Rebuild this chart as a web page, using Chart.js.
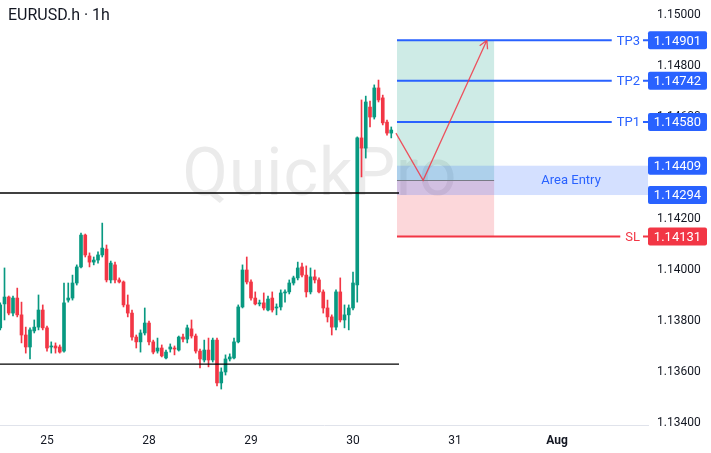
<!DOCTYPE html>
<html>
<head>
<meta charset="utf-8">
<script src="https://cdn.jsdelivr.net/npm/chart.js@4.4.1/dist/chart.umd.min.js"></script>
<style>
  html, body { margin: 0; padding: 0; background: #fff; }
  #wrap { position: relative; width: 711px; height: 453px; overflow: hidden; }
  #chart { position: absolute; left: 0; top: 0; z-index: 1; }
  #title { position: absolute; left: 8px; top: 5px; z-index: 2; font: 16px Roboto, sans-serif; color: #131722; }
  #mark { position: absolute; left: 0; top: 134px; width: 640px; text-align: center; z-index: 0;
          font: 66px Roboto, sans-serif; color: #ebebeb; letter-spacing: 1px; }
</style>
</head>
<body>
<div id="wrap">
  <div id="mark">QuickPro</div>
  <canvas id="chart" width="711" height="453"></canvas>
  <div id="title">EURUSD.h · 1h</div>
</div>
<script>
// hourly candles, hour 0 = 25 Jul 00:00 (trading hours only)
const hours = [-11, -10, -9, -8, -7, -6, -5, -4, -3, -2, -1,
  0, 1, 2, 3, 4, 5, 6, 7, 8, 9, 10, 11, 12, 13, 14, 15, 16, 17, 18, 19, 20, 21, 22, 23,
  24, 25, 26, 27, 28, 29, 30, 31, 32, 33, 34, 35, 36, 37, 38, 39, 40, 41, 42, 43, 44, 45, 46, 47,
  48, 49, 50, 51, 52, 53, 54, 55, 56, 57, 58, 59, 60, 61, 62, 63, 64, 65, 66, 67, 68, 69, 70, 71,
  72, 73, 74, 75, 76, 77, 78, 79, 80, 81];

const opens = [1.13773, 1.13867, 1.13894, 1.13831, 1.13890, 1.13824, 1.13745, 1.13698, 1.13761, 1.13776, 1.13843,
  1.13773, 1.13698, 1.13702, 1.13698, 1.13682, 1.13882, 1.13890, 1.13949, 1.14012, 1.14137, 1.14055, 1.14031,
  1.14039, 1.14059, 1.14082, 1.13961, 1.14020, 1.13961, 1.13953, 1.13863, 1.13831, 1.13737, 1.13718, 1.13753,
  1.13792, 1.13718, 1.13682, 1.13694, 1.13655, 1.13690, 1.13694, 1.13686, 1.13737, 1.13729, 1.13769, 1.13741,
  1.13682, 1.13647, 1.13686, 1.13647, 1.13725, 1.13557, 1.13600, 1.13651, 1.13655, 1.13718, 1.13855, 1.14000,
  1.13953, 1.13890, 1.13867, 1.13871, 1.13843, 1.13890, 1.13851, 1.13855, 1.13910, 1.13914, 1.13949, 1.13969,
  1.14012, 1.13980, 1.13914, 1.13973, 1.13961, 1.13914, 1.13851, 1.13816, 1.13776, 1.13914, 1.13804, 1.13824,
  1.13851, 1.13941, 1.14518, 1.14478, 1.14639, 1.14600, 1.14714, 1.14675, 1.14580, 1.14537];

const highs = [1.13871, 1.14008, 1.13898, 1.13898, 1.13929, 1.13874, 1.13776, 1.13773, 1.13804, 1.13902, 1.13863,
  1.13780, 1.13718, 1.13714, 1.13706, 1.13949, 1.13949, 1.13980, 1.14020, 1.14145, 1.14141, 1.14067, 1.14051,
  1.14071, 1.14184, 1.14098, 1.14035, 1.14031, 1.13969, 1.13957, 1.13902, 1.13843, 1.13745, 1.13765, 1.13851,
  1.13800, 1.13725, 1.13733, 1.13706, 1.13686, 1.13710, 1.13702, 1.13741, 1.13749, 1.13784, 1.13804, 1.13749,
  1.13690, 1.13725, 1.13733, 1.13733, 1.13733, 1.13616, 1.13667, 1.13671, 1.13733, 1.13863, 1.14020, 1.14051,
  1.13961, 1.13914, 1.13882, 1.13910, 1.13898, 1.13914, 1.13867, 1.13922, 1.13922, 1.13961, 1.13976, 1.14031,
  1.14027, 1.14016, 1.14008, 1.14000, 1.13969, 1.13922, 1.13882, 1.13824, 1.13922, 1.13969, 1.13863, 1.13863,
  1.13992, 1.14522, 1.14667, 1.14682, 1.14663, 1.14726, 1.14745, 1.14686, 1.14588, 1.14561];

const lows = [1.13765, 1.13804, 1.13824, 1.13820, 1.13816, 1.13714, 1.13674, 1.13651, 1.13753, 1.13765, 1.13765,
  1.13682, 1.13674, 1.13674, 1.13674, 1.13678, 1.13874, 1.13882, 1.13941, 1.14008, 1.14051, 1.14012, 1.14020,
  1.14027, 1.14051, 1.13953, 1.13949, 1.13949, 1.13949, 1.13855, 1.13816, 1.13725, 1.13694, 1.13678, 1.13745,
  1.13706, 1.13671, 1.13674, 1.13659, 1.13651, 1.13678, 1.13667, 1.13682, 1.13718, 1.13714, 1.13733, 1.13674,
  1.13616, 1.13639, 1.13620, 1.13639, 1.13545, 1.13533, 1.13588, 1.13643, 1.13651, 1.13714, 1.13851, 1.13945,
  1.13882, 1.13863, 1.13859, 1.13843, 1.13839, 1.13835, 1.13824, 1.13843, 1.13874, 1.13906, 1.13941, 1.13961,
  1.13973, 1.13894, 1.13906, 1.13949, 1.13910, 1.13831, 1.13796, 1.13745, 1.13765, 1.13796, 1.13773, 1.13765,
  1.13843, 1.13874, 1.14365, 1.14439, 1.14561, 1.14592, 1.14659, 1.14569, 1.14529, 1.14518];

const closes = [1.13863, 1.13894, 1.13831, 1.13890, 1.13824, 1.13745, 1.13698, 1.13765, 1.13776, 1.13843, 1.13773,
  1.13694, 1.13702, 1.13694, 1.13678, 1.13871, 1.13890, 1.13949, 1.14012, 1.14137, 1.14059, 1.14031, 1.14039,
  1.14059, 1.14086, 1.13961, 1.14027, 1.13961, 1.13953, 1.13863, 1.13831, 1.13737, 1.13718, 1.13753, 1.13792,
  1.13718, 1.13678, 1.13694, 1.13663, 1.13678, 1.13698, 1.13690, 1.13737, 1.13729, 1.13773, 1.13741, 1.13682,
  1.13651, 1.13686, 1.13647, 1.13725, 1.13557, 1.13600, 1.13651, 1.13659, 1.13718, 1.13855, 1.14000, 1.13953,
  1.13890, 1.13867, 1.13871, 1.13851, 1.13886, 1.13843, 1.13855, 1.13910, 1.13914, 1.13949, 1.13969, 1.14008,
  1.13980, 1.13914, 1.13973, 1.13961, 1.13914, 1.13851, 1.13816, 1.13776, 1.13914, 1.13804, 1.13824, 1.13851,
  1.13949, 1.14518, 1.14478, 1.14659, 1.14600, 1.14714, 1.14667, 1.14577, 1.14537, 1.14549];

// axis ticks
const dayTicks = [0, 24, 48, 72, 96, 120];
const dayLabels = ['25', '28', '29', '30', '31', 'Aug'];
const priceTicks = [1.134, 1.136, 1.138, 1.140, 1.142, 1.144, 1.146, 1.148, 1.150];

// trade plan
const tpNames = ['TP3', 'TP2', 'TP1'];
const tpLevels = [1.14901, 1.14742, 1.14580];
const slLevel = 1.14131;
const entryTop = 1.14409;
const entryBottom = 1.14294;
const entryMid = 1.14352;
const supportLevels = [1.14302, 1.13631];
const arrowHours = [82.1, 88.5, 103.5];
const arrowPrices = [1.14537, 1.14352, 1.14901];

const GREEN = '#089981', RED = '#f23645', BLUE = '#2962ff';
const candleColors = opens.map((o, i) => closes[i] >= o ? GREEN : RED);

function priceBox(ctx, a, yv, text, color) {
  ctx.fillStyle = color;
  ctx.beginPath();
  ctx.roundRect(a.right, yv - 9, 59, 18, 2);
  ctx.fill();
  ctx.fillStyle = '#fff';
  ctx.font = '13px Roboto';
  ctx.textAlign = 'center';
  ctx.textBaseline = 'middle';
  ctx.fillText(text, a.right + 29.5, yv + 1);
}

function levelLine(ctx, a, x0, yv, name, color) {
  ctx.font = '13px Roboto';
  const tw = ctx.measureText(name).width;
  const tx = a.right - 8;
  ctx.strokeStyle = color;
  ctx.lineWidth = 2;
  ctx.beginPath();
  ctx.moveTo(x0, yv); ctx.lineTo(tx - tw - 5, yv);
  ctx.moveTo(tx + 3, yv); ctx.lineTo(a.right, yv);
  ctx.stroke();
  ctx.fillStyle = color;
  ctx.textAlign = 'right';
  ctx.textBaseline = 'middle';
  ctx.fillText(name, tx, yv + 1);
}

const planPlugin = {
  id: 'plan',
  beforeDatasetsDraw(chart) {
    const { ctx, chartArea: a, scales: { x, y } } = chart;
    const x0 = x.getPixelForValue(arrowHours[0] + 0.25);
    const x1 = x.getPixelForValue(arrowHours[2] + 1.7);
    const yTp = y.getPixelForValue(tpLevels[0]);
    const yMid = y.getPixelForValue(entryMid);
    const ySl = y.getPixelForValue(slLevel);
    ctx.save();
    ctx.fillStyle = 'rgba(8,153,129,0.2)';
    ctx.fillRect(x0, yTp, x1 - x0, yMid - yTp);
    ctx.fillStyle = 'rgba(242,54,69,0.2)';
    ctx.fillRect(x0, yMid, x1 - x0, ySl - yMid);
    const yt = y.getPixelForValue(entryTop), yb = y.getPixelForValue(entryBottom);
    ctx.fillStyle = 'rgba(41,98,255,0.2)';
    ctx.fillRect(x0, yt, a.right - x0, yb - yt);
    ctx.strokeStyle = '#787b86';
    ctx.lineWidth = 1;
    ctx.beginPath();
    ctx.moveTo(x0, Math.round(yMid) + 0.5); ctx.lineTo(x1, Math.round(yMid) + 0.5);
    ctx.stroke();
    ctx.fillStyle = BLUE;
    ctx.font = '13px Roboto';
    ctx.textAlign = 'center';
    ctx.textBaseline = 'middle';
    ctx.fillText('Area Entry', (x1 + a.right) / 2, (yt + yb) / 2);
    ctx.restore();
  },
  afterDatasetsDraw(chart) {
    const { ctx, chartArea: a, scales: { x, y } } = chart;
    const x0 = x.getPixelForValue(arrowHours[0] + 0.25);
    ctx.save();
    // horizontal support / resistance
    ctx.strokeStyle = '#000';
    ctx.lineWidth = 1.3;
    supportLevels.forEach(v => {
      const yv = y.getPixelForValue(v);
      ctx.beginPath(); ctx.moveTo(a.left, yv); ctx.lineTo(x0 + 2, yv); ctx.stroke();
    });
    tpLevels.forEach((v, i) => levelLine(ctx, a, x0, y.getPixelForValue(v), tpNames[i], BLUE));
    levelLine(ctx, a, x0, y.getPixelForValue(slLevel), 'SL', RED);
    // projected path
    const pts = arrowHours.map((h, i) => [x.getPixelForValue(h), y.getPixelForValue(arrowPrices[i])]);
    ctx.strokeStyle = 'rgba(242,54,69,0.85)';
    ctx.lineWidth = 1.3;
    ctx.beginPath();
    pts.forEach((p, i) => i ? ctx.lineTo(p[0], p[1]) : ctx.moveTo(p[0], p[1]));
    const [pa, pb] = [pts[1], pts[2]];
    const ang = Math.atan2(pb[1] - pa[1], pb[0] - pa[0]);
    [-0.5, 0.5].forEach(d => {
      ctx.moveTo(pb[0], pb[1]);
      ctx.lineTo(pb[0] - 9 * Math.cos(ang + d), pb[1] - 9 * Math.sin(ang + d));
    });
    ctx.stroke();
    ctx.restore();
  },
  afterDraw(chart) {
    const { ctx, chartArea: a, scales: { y } } = chart;
    ctx.save();
    tpLevels.forEach(v => priceBox(ctx, a, y.getPixelForValue(v), v.toFixed(5), BLUE));
    priceBox(ctx, a, y.getPixelForValue(entryTop), entryTop.toFixed(5), BLUE);
    priceBox(ctx, a, y.getPixelForValue(entryBottom), entryBottom.toFixed(5), BLUE);
    priceBox(ctx, a, y.getPixelForValue(slLevel), slLevel.toFixed(5), RED);
    ctx.restore();
  }
};

new Chart(document.getElementById('chart').getContext('2d'), {
  type: 'bar',
  data: {
    datasets: [{
      label: 'body',
      data: hours.map((h, i) => ({ x: h, y: [opens[i], closes[i]] })),
      backgroundColor: candleColors,
      barThickness: 3,
      minBarLength: 1,
      grouped: false
    }, {
      label: 'wick',
      data: hours.map((h, i) => ({ x: h, y: [lows[i], highs[i]] })),
      backgroundColor: candleColors,
      barThickness: 1,
      grouped: false
    }]
  },
  options: {
    responsive: false,
    animation: false,
    layout: { padding: 0 },
    plugins: { legend: { display: false }, tooltip: { enabled: false } },
    scales: {
      x: {
        type: 'linear',
        offset: false,
        min: -11.06,
        max: 141.41,
        grid: { display: false, drawTicks: false },
        border: { display: true, color: '#e0e3eb' },
        ticks: {
          autoSkip: false,
          maxRotation: 0,
          padding: 9,
          color: '#131722',
          font: c => ({ family: 'Roboto', size: 12, weight: dayLabels[c.index] === 'Aug' ? 'bold' : 'normal' }),
          callback: v => dayLabels[dayTicks.indexOf(v)]
        },
        afterBuildTicks: s => { s.ticks = dayTicks.map(v => ({ value: v })); },
        afterFit: s => { s.height = 28; s.paddingLeft = 0; s.paddingRight = 0; }
      },
      y: {
        position: 'right',
        min: 1.13392,
        max: 1.15059,
        grid: { display: false, drawTicks: false },
        border: { display: false },
        ticks: {
          padding: 9,
          color: '#131722',
          font: { family: 'Roboto', size: 12 },
          callback: v => v.toFixed(5)
        },
        afterBuildTicks: s => { s.ticks = priceTicks.map(v => ({ value: v })); },
        afterFit: s => { s.width = 63; s.paddingTop = 0; s.paddingBottom = 0; }
      }
    }
  },
  plugins: [planPlugin]
});
</script>
</body>
</html>
